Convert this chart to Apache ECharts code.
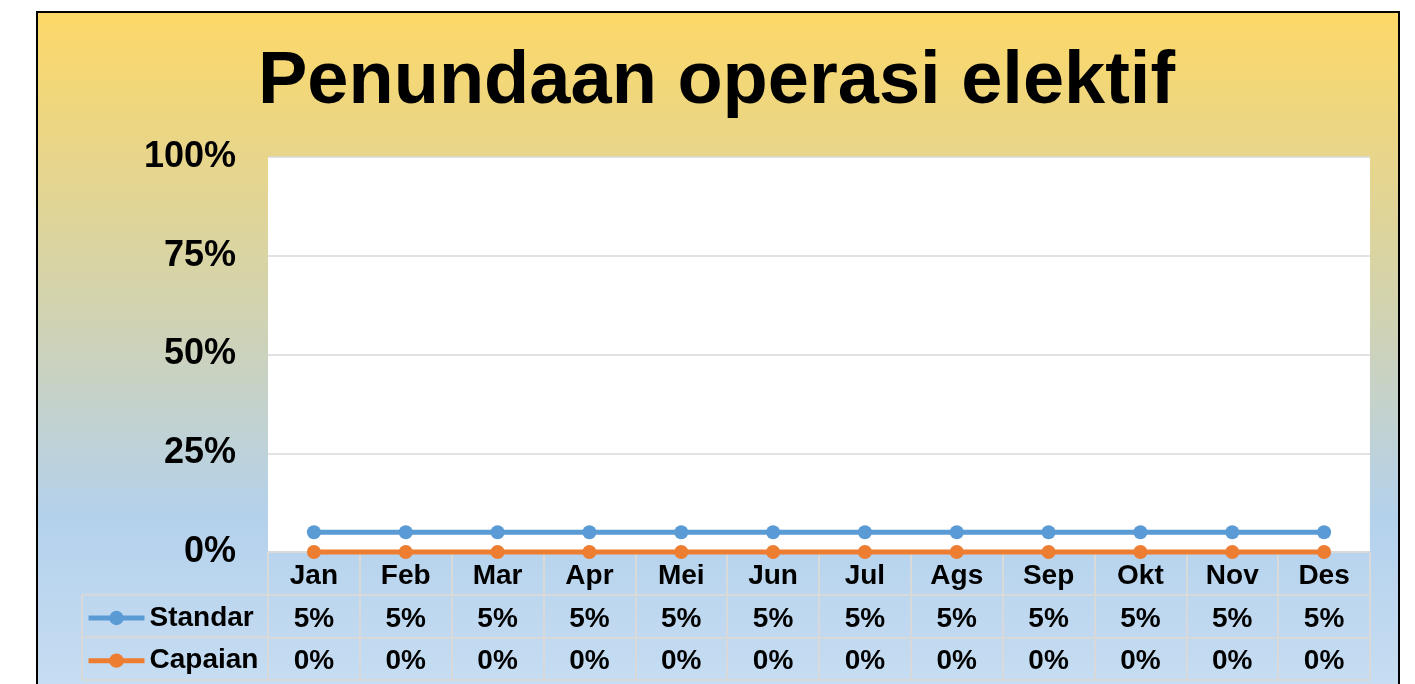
<!doctype html>
<html>
<head>
    <meta http-equiv="Content-Type" content="text/html; charset=utf-8">
    <title>Penundaan operasi elektif</title>
    <script src="https://cdn.jsdelivr.net/npm/echarts@6/dist/echarts.min.js"></script>
    <style>
        html, body { margin: 0; padding: 0; background: #fff; }
        #chart { width: 1415px; height: 684px; }
    </style>
</head>
<body>
<div id="chart"></div>
<script type="text/javascript">
    // data
    var chartTitle = 'Penundaan operasi elektif';
    var categories = ['Jan', 'Feb', 'Mar', 'Apr', 'Mei', 'Jun', 'Jul', 'Ags', 'Sep', 'Okt', 'Nov', 'Des'];
    var seriesNames = ['Standar', 'Capaian'];
    var standar = [0.05, 0.05, 0.05, 0.05, 0.05, 0.05, 0.05, 0.05, 0.05, 0.05, 0.05, 0.05];
    var capaian = [0, 0, 0, 0, 0, 0, 0, 0, 0, 0, 0, 0];
    var yTicks = [0, 0.25, 0.5, 0.75, 1];

    var font = '"Liberation Sans", Arial, sans-serif';
    var gridColor = '#D9D9D9';
    var colors = ['#5B9BD5', '#ED7D31'];

    // plot / table layout
    var plotLeft = 268, plotRight = 1370, plotTop = 157, plotBottom = 552;
    var tableBottom = 680, labelLeft = 82;
    var rowH = (tableBottom - plotBottom) / 3;

    function pct(v) { return Math.round(v * 100) + '%'; }

    // table cells text: row 0 = months, row 1 = standar, row 2 = capaian
    var cellText = [];
    categories.forEach(function (c, i) {
        cellText.push([i, 0, c]);
        cellText.push([i, 1, pct(standar[i])]);
        cellText.push([i, 2, pct(capaian[i])]);
    });

    var myChart = echarts.init(document.getElementById('chart'));

    var tableLine = { stroke: gridColor, lineWidth: 2 };
    var option = {
        backgroundColor: '#fff',
        animation: false,
        textStyle: { fontFamily: font },
        title: {
            text: chartTitle,
            left: 253,
            top: 41,
            textStyle: { fontSize: 74, fontWeight: 'bold', color: '#000', fontFamily: font }
        },
        graphic: [
            {
                type: 'rect', z: -100,
                shape: { x: 37, y: 12, width: 1362, height: 700 },
                style: {
                    fill: new echarts.graphic.LinearGradient(0, 0, 0, 1, [
                        { offset: 0, color: '#FDD867' },
                        { offset: 0.41, color: '#D3D3AD' },
                        { offset: 0.72, color: '#B4D1EC' },
                        { offset: 1, color: '#C9DFF3' }
                    ]),
                    stroke: '#000',
                    lineWidth: 2
                }
            },
            { type: 'line', shape: { x1: labelLeft, y1: plotBottom + rowH, x2: labelLeft, y2: tableBottom }, style: tableLine },
            { type: 'line', shape: { x1: labelLeft, y1: plotBottom + rowH, x2: plotLeft, y2: plotBottom + rowH }, style: tableLine },
            { type: 'line', shape: { x1: labelLeft, y1: plotBottom + 2 * rowH, x2: plotLeft, y2: plotBottom + 2 * rowH }, style: tableLine },
            { type: 'line', shape: { x1: labelLeft, y1: tableBottom, x2: plotLeft, y2: tableBottom }, style: tableLine }
        ],
        legend: {
            data: seriesNames,
            orient: 'vertical',
            left: 81,
            top: plotBottom + rowH * 1.5 - 14 - 3,
            itemWidth: 56,
            itemHeight: 18,
            itemGap: rowH - 28,
            selectedMode: false,
            lineStyle: { width: 5 },
            textStyle: { fontSize: 28, fontWeight: 'bold', color: '#000', fontFamily: font, lineHeight: 28 }
        },
        grid: [
            {
                left: plotLeft, right: 1415 - plotRight, top: plotTop, bottom: 684 - plotBottom,
                show: true, backgroundColor: '#fff', borderWidth: 0
            },
            {
                left: plotLeft, right: 1415 - plotRight, top: plotBottom, bottom: 684 - tableBottom,
                show: false
            }
        ],
        xAxis: [
            {
                type: 'category', gridIndex: 0, data: categories,
                axisLine: { show: false }, axisTick: { show: false }, axisLabel: { show: false }
            },
            {
                type: 'category', gridIndex: 1, data: categories,
                axisLine: { show: false }, axisTick: { show: false }, axisLabel: { show: false },
                splitLine: { show: true, lineStyle: { color: gridColor, width: 2 } }
            }
        ],
        yAxis: [
            {
                type: 'value', gridIndex: 0, min: yTicks[0], max: yTicks[yTicks.length - 1], interval: 0.25,
                axisLine: { show: false }, axisTick: { show: false },
                axisLabel: {
                    formatter: pct, margin: 32, fontSize: 36, fontWeight: 'bold', color: '#000', fontFamily: font,
                    padding: [4, 0, 0, 0]
                },
                splitLine: { lineStyle: { color: gridColor, width: 1.5 } }
            },
            {
                type: 'category', gridIndex: 1, data: ['', seriesNames[0], seriesNames[1]], inverse: true,
                axisLine: { show: false }, axisTick: { show: false }, axisLabel: { show: false },
                splitLine: { show: true, lineStyle: { color: gridColor, width: 2 } }
            }
        ],
        series: [
            {
                name: seriesNames[0], type: 'line', xAxisIndex: 0, yAxisIndex: 0, data: standar,
                symbol: 'circle', symbolSize: 14, clip: false,
                lineStyle: { width: 5, color: colors[0] }, itemStyle: { color: colors[0] }
            },
            {
                name: seriesNames[1], type: 'line', xAxisIndex: 0, yAxisIndex: 0, data: capaian,
                symbol: 'circle', symbolSize: 14, clip: false,
                lineStyle: { width: 5, color: colors[1] }, itemStyle: { color: colors[1] }
            },
            {
                name: 'table', type: 'scatter', xAxisIndex: 1, yAxisIndex: 1, data: cellText,
                symbolSize: 0, silent: true, itemStyle: { opacity: 1 },
                label: {
                    show: true, position: 'inside', offset: [0, 3], opacity: 1,
                    formatter: function (p) { return p.value[2]; },
                    fontSize: 28, fontWeight: 'bold', color: '#000', fontFamily: font
                }
            }
        ]
    };

    myChart.setOption(option);
</script>
</body>
</html>
